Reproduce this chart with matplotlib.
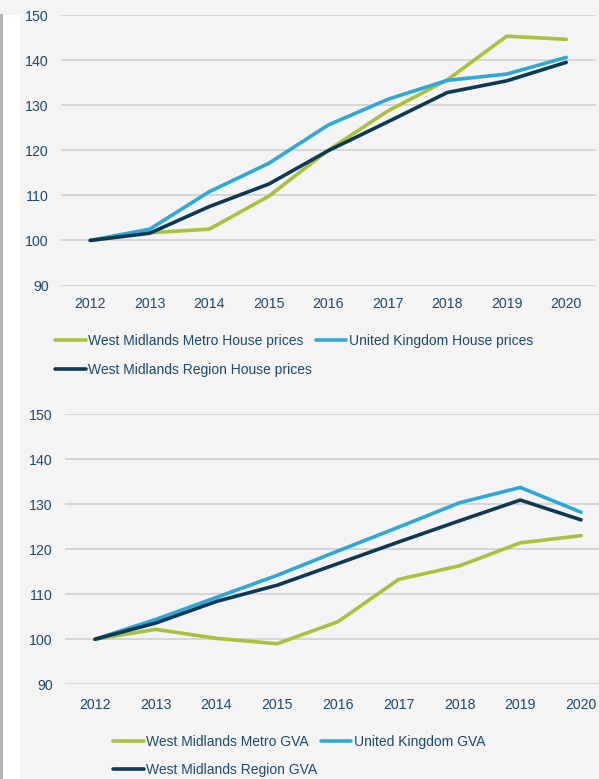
import matplotlib.pyplot as plt
from matplotlib.patches import Rectangle
from matplotlib.lines import Line2D

years = [2012, 2013, 2014, 2015, 2016, 2017, 2018, 2019, 2020]

# house price index (2012 = 100)
metro_house = [100, 101.7, 102.5, 109.8, 120.0, 128.7, 135.6, 145.3, 144.6]
uk_house = [100, 102.5, 110.8, 117.1, 125.6, 131.3, 135.5, 136.9, 140.6]
region_house = [100, 101.6, 107.5, 112.5, 119.9, 126.3, 132.8, 135.4, 139.5]

# GVA index (2012 = 100)
metro_gva = [100, 102.2, 100.2, 99.0, 103.9, 113.3, 116.3, 121.4, 123.0]
uk_gva = [100, 104.4, 109.3, 114.2, 119.6, 124.9, 130.3, 133.7, 128.2]
region_gva = [100, 103.6, 108.4, 112.0, 116.8, 121.6, 126.3, 130.9, 126.5]

house_labels = ['West Midlands Metro House prices', 'United Kingdom House prices',
                'West Midlands Region House prices']
gva_labels = ['West Midlands Metro GVA', 'United Kingdom GVA', 'West Midlands Region GVA']

y_ticks = [90, 100, 110, 120, 130, 140, 150]

GREEN = '#a8c23c'
BLUE = '#2ea8d8'
NAVY = '#0c3a56'
TEXT = '#1c4a6c'
GRID = '#d3d3d3'
BG = '#f4f4f4'

plt.rcParams['font.family'] = ['Liberation Sans', 'DejaVu Sans']

W, H = 599, 779
fig = plt.figure(figsize=(W / 100, H / 100), dpi=100, facecolor=BG)

# white strip with grey border on the left edge of the screenshot
fig.patches.append(Rectangle((0, 0), 20 / W, 1 - 15 / H, transform=fig.transFigure,
                             facecolor='white', edgecolor='none', zorder=0))
fig.lines.append(Line2D([1.2 / W, 1.2 / W], [0, 1 - 15 / H], transform=fig.transFigure,
                        color='#adadad', linewidth=2.0))


def px_axes(left, right, top, bottom):
    return fig.add_axes([left / W, 1 - bottom / H, (right - left) / W, (bottom - top) / H])


def draw_panel(ax, series, labels, xpad, legend_x, legend_y1, legend_y2):
    ax.set_facecolor('none')
    colors = [GREEN, BLUE, NAVY]
    handles = []
    for vals, lab, c in zip(series, labels, colors):
        h, = ax.plot(years, vals, color=c, linewidth=2.6, label=lab,
                     solid_capstyle='round', solid_joinstyle='round', zorder=3)
        handles.append(h)
    ax.set_xlim(2011.5, 2020.5)
    ax.set_ylim(90, 150)
    ax.set_yticks(y_ticks)
    ax.set_xticks(years)
    ax.grid(axis='y', color=GRID, linewidth=1.3)
    ax.set_axisbelow(True)
    for s in ax.spines.values():
        s.set_visible(False)
    ax.tick_params(axis='y', length=0, pad=8.6, labelsize=10.2, labelcolor=TEXT)
    ax.tick_params(axis='x', length=0, pad=xpad, labelsize=10.2, labelcolor=TEXT)

    # two legends so the first row keeps its own column widths
    kw = dict(frameon=False, fontsize=10, labelcolor=TEXT, handlelength=2.2,
              handletextpad=0.2, columnspacing=0.85, borderpad=0, borderaxespad=0,
              loc='center left')
    fig.legend(handles[:2], labels[:2], ncol=2,
               bbox_to_anchor=(legend_x / W, 1 - legend_y1 / H), **kw)
    fig.legend(handles[2:], labels[2:], ncol=1,
               bbox_to_anchor=(legend_x / W, 1 - legend_y2 / H), **kw)


ax1 = px_axes(60.5, 596, 15, 285.5)
draw_panel(ax1, [metro_house, uk_house, region_house], house_labels,
           xpad=8.0, legend_x=55, legend_y1=341, legend_y2=370)

ax2 = px_axes(64.6, 611.4, 414, 684.3)
draw_panel(ax2, [metro_gva, uk_gva, region_gva], gva_labels,
           xpad=10.0, legend_x=113, legend_y1=742, legend_y2=770)

fig.savefig('out.png', dpi=100, facecolor=BG)
